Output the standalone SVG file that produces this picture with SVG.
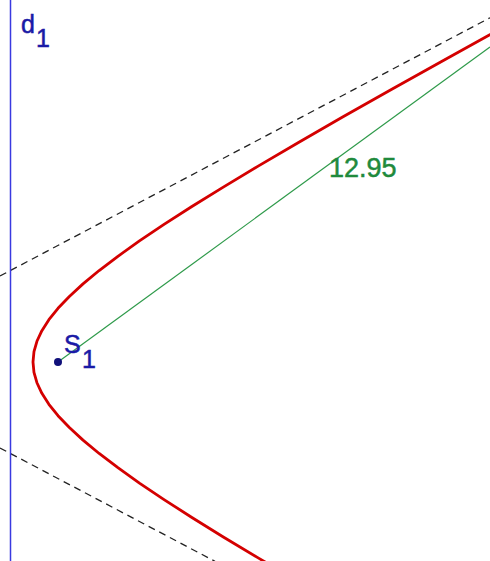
<svg xmlns="http://www.w3.org/2000/svg" width="490" height="561" viewBox="0 0 490 561">
<style>
.lbl{font-family:"Liberation Sans",Arial,sans-serif;font-size:25px;stroke-width:0.5}
.blue{fill:#1a1aa6;stroke:#1a1aa6}
.asym{stroke:#222;stroke-width:1.3;stroke-dasharray:7,5;fill:none}
</style>
<rect width="490" height="561" fill="#fff"/>
<g id="asymptotes">
<line class="asym" x1="0" y1="276" x2="490" y2="17.8"/>
<line class="asym" x1="0" y1="448" x2="215" y2="561.3"/>
</g>
<g id="directrix">
<line x1="10.5" y1="0" x2="10.5" y2="561" stroke="#3a3ae0" stroke-width="1.5"/>
<text class="lbl blue" x="21" y="33">d</text>
<text class="lbl blue" x="36" y="47">1</text>
</g>
<g id="hyperbola">
<polyline fill="none" stroke="#d40000" stroke-width="2.8" stroke-linejoin="round" points="298.07,581.32 258.58,558.14 223.30,536.93 191.89,517.47 164.03,499.57 139.44,483.05 117.89,467.73 99.14,453.48 83.01,440.13 69.35,427.57 58.02,415.67 48.89,404.31 41.89,393.37 36.93,382.74 33.98,372.32 33,362 33.98,351.68 36.93,341.26 41.89,330.63 48.89,319.69 58.02,308.33 69.35,296.43 83.01,283.87 99.14,270.52 117.89,256.27 139.44,240.95 164.03,224.43 191.89,206.53 223.30,187.07 258.58,165.86 298.07,142.68 342.18,117.32 391.35,89.50 446.06,58.96 506.87,25.38"/>
</g>
<g id="distance">
<line x1="58" y1="362" x2="490" y2="47" stroke="#2e9a4a" stroke-width="1.2"/>
<text class="lbl" x="329" y="177" fill="#1f8a3c" stroke="#1f8a3c" style="font-size:27px">12.95</text>
</g>
<g id="focus">
<circle cx="58" cy="362" r="4" fill="#10107a"/>
<text class="lbl blue" x="64" y="353">S</text>
<text class="lbl blue" x="82" y="368">1</text>
</g>
</svg>
